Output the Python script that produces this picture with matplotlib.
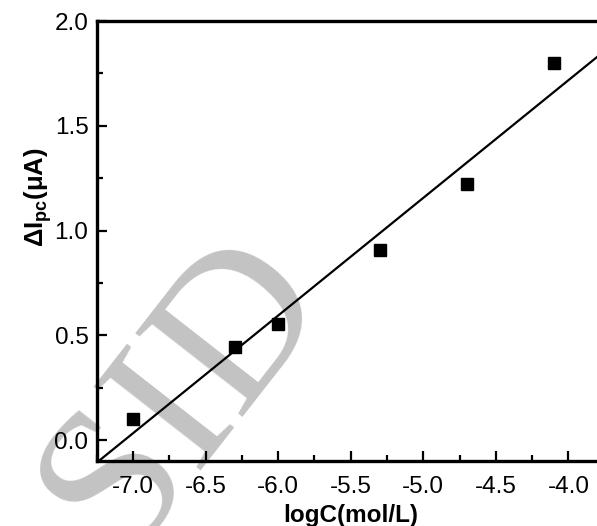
import numpy as np
import matplotlib
matplotlib.use("Agg")
import matplotlib.pyplot as plt
from matplotlib.ticker import MultipleLocator

plt.rcParams['font.family'] = ['Liberation Sans', 'DejaVu Sans']
plt.rcParams['mathtext.fontset'] = 'custom'
plt.rcParams['mathtext.rm'] = 'Liberation Sans'
plt.rcParams['mathtext.bf'] = 'Liberation Sans:bold'
plt.rcParams['axes.unicode_minus'] = False

# data
log_c = [-7.0, -6.3, -6.0, -5.3, -4.7, -4.1]
delta_ipc = [0.10, 0.445, 0.552, 0.907, 1.222, 1.80]

x_limits = (-7.25, -3.75)
y_limits = (-0.1, 2.0)

fig = plt.figure(figsize=(5.97, 5.26), dpi=100)
ax = fig.add_axes([0.162, 0.1236, 1.013 - 0.162, 0.960 - 0.1236])

# linear fit
slope, intercept = np.polyfit(log_c, delta_ipc, 1)
xf = np.array(x_limits)
ax.plot(xf, slope * xf + intercept, color='black', lw=1.6, zorder=3)
ax.plot(log_c, delta_ipc, 's', color='black', ms=8.5, zorder=4)

ax.set_xlim(*x_limits)
ax.set_ylim(*y_limits)
ax.xaxis.set_major_locator(MultipleLocator(0.5))
ax.xaxis.set_minor_locator(MultipleLocator(0.25))
ax.yaxis.set_major_locator(MultipleLocator(0.5))
ax.yaxis.set_minor_locator(MultipleLocator(0.25))
ax.tick_params(which='both', direction='in', width=1.6, labelsize=17.5)
ax.tick_params(which='major', length=7)
ax.tick_params(which='minor', length=4)
ax.tick_params(axis='x', which='major', pad=11)
ax.tick_params(axis='y', which='major', pad=6)
for s in ax.spines.values():
    s.set_linewidth(2.4)

ax.set_xlabel('logC(mol/L)', fontsize=17.5, fontweight='bold', labelpad=4)
ax.set_ylabel(r'$\mathbf{\Delta I_{pc}}$(μA)', fontsize=18.5, fontweight='bold', labelpad=0)
ax.yaxis.label.set_y(0.6)

# grey watermark
ax.text(0.385, 0.43, 'Archive of SID', transform=ax.transAxes, fontsize=150,
        family='Liberation Serif', color='#c3c3c3', rotation=52,
        ha='right', va='center', rotation_mode='anchor', zorder=0.5, clip_on=False)

fig.savefig('out.png', dpi=100)
